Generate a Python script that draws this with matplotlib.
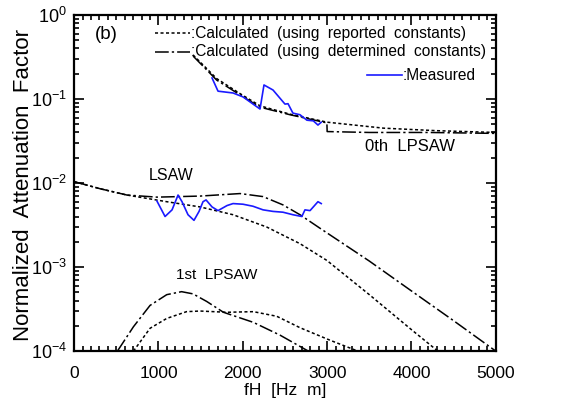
import numpy as np
import matplotlib
matplotlib.use("Agg")
import matplotlib.pyplot as plt
from matplotlib.ticker import MultipleLocator, LogLocator, NullFormatter
from matplotlib.lines import Line2D

plt.rcParams['font.family'] = ['Liberation Sans', 'DejaVu Sans']
plt.rcParams['mathtext.fontset'] = 'custom'
plt.rcParams['mathtext.rm'] = 'Liberation Sans'

# 0th LPSAW
f0_rep = [1410, 1690, 1967, 2204, 2560, 3000, 3670, 4300, 5000]
a0_rep = [0.335, 0.175, 0.116, 0.083, 0.066, 0.053, 0.045, 0.042, 0.040]
f0_det = [1410, 1690, 1967, 2204, 2560, 2997, 3000, 3500, 4200, 5000]
a0_det = [0.325, 0.168, 0.112, 0.080, 0.065, 0.052, 0.041, 0.040, 0.040, 0.039]
f0_meas = [1635, 1706, 1884, 2002, 2204, 2251, 2358, 2500, 2536, 2594, 2678,
           2760, 2836, 2891, 2930]
a0_meas = [0.178, 0.124, 0.118, 0.106, 0.076, 0.147, 0.128, 0.087, 0.088, 0.068,
           0.065, 0.056, 0.055, 0.049, 0.053]

# LSAW
fl_rep = [0, 300, 626, 1098, 1493, 1884, 2283, 2678, 2997, 3500, 4000, 4313]
al_rep = [0.0104, 0.0086, 0.0072, 0.0060, 0.0052, 0.0042, 0.0030, 0.0019,
          0.0012, 0.00047, 0.00018, 0.0001]
fl_det = [0, 300, 626, 982, 1493, 1967, 2240, 2476, 2678, 2915, 3500, 4000,
          4500, 5000]
al_det = [0.0104, 0.0086, 0.0072, 0.0068, 0.0070, 0.0075, 0.0069, 0.0055,
          0.0042, 0.0029, 0.00118, 0.00052, 0.00023, 0.0001]
fl_meas = [982, 1078, 1161, 1232, 1279, 1350, 1421, 1481, 1528, 1564, 1635, 1706,
           1813, 1884, 2002, 2120, 2240, 2358, 2476, 2594, 2700, 2737, 2797,
           2891, 2930]
al_meas = [0.0061, 0.0040, 0.0048, 0.0072, 0.0060, 0.0042, 0.0036, 0.0046,
           0.0060, 0.0063, 0.0052, 0.0047, 0.0054, 0.0057, 0.0056, 0.0053,
           0.0048, 0.0046, 0.0045, 0.0042, 0.0040, 0.0048, 0.0047, 0.0060,
           0.0057]

# 1st LPSAW
f1_rep = [703, 900, 1098, 1333, 1493, 1813, 2125, 2402, 2678, 3033, 3365]
a1_rep = [0.0001, 0.000187, 0.000245, 0.000295, 0.0003, 0.00029, 0.000295,
          0.00026, 0.00019, 0.000135, 0.0001]
f1_det = [513, 703, 900, 1098, 1274, 1410, 1572, 1770, 2125, 2441, 2777]
a1_det = [0.0001, 0.000195, 0.00035, 0.00047, 0.00051, 0.00048, 0.00039,
          0.00029, 0.00022, 0.000155, 0.0001]

fig = plt.figure(figsize=(5.66, 4.05), dpi=100)
ax = fig.add_axes([0.131, 0.133, 0.745, 0.83])

dotted = dict(color='black', lw=1.1, ls=(0, (2, 1.6)))
dashdot = dict(color='black', lw=1.1, ls=(0, (9, 2, 1.5, 2)))
meas = dict(color='#1a1aff', lw=1.2)

ax.plot(f0_rep, a0_rep, **dotted)
ax.plot(f0_det, a0_det, **dashdot)
ax.plot(f0_meas, a0_meas, **meas)
ax.plot(fl_rep, al_rep, **dotted)
ax.plot(fl_det, al_det, **dashdot)
ax.plot(fl_meas, al_meas, **meas)
ax.plot(f1_rep, a1_rep, **dotted)
ax.plot(f1_det, a1_det, **dashdot)

ax.set_yscale('log')
ax.set_xlim(0, 5000)
ax.set_ylim(1e-4, 1)
ax.xaxis.set_major_locator(MultipleLocator(1000))
ax.xaxis.set_minor_locator(MultipleLocator(100))
ax.yaxis.set_major_locator(LogLocator(base=10, numticks=10))
ax.yaxis.set_minor_locator(LogLocator(base=10, subs=np.arange(2, 10), numticks=10))
ax.yaxis.set_minor_formatter(NullFormatter())
ax.tick_params(which='both', direction='in', top=True, right=True, width=1.2)
ax.tick_params(which='major', length=7)
ax.tick_params(axis='x', which='major', pad=11, labelsize=12.5)
ax.tick_params(axis='y', which='major', pad=5, labelsize=13)
ax.tick_params(which='minor', length=3.5)
for s in ax.spines.values():
    s.set_linewidth(1.6)

ax.set_xlabel('fH  [Hz  m]', fontsize=12.5, labelpad=1)
ax.set_ylabel('Normalized  Attenuation  Factor', fontsize=16)
ax.yaxis.set_label_coords(-0.096, 0.495)

ax.text(250, 0.58, '(b)', fontsize=13.5, ha='left', va='center')
# legend drawn by hand
ax.add_line(Line2D([960, 1374], [0.61, 0.61], **dotted))
ax.text(1380, 0.61, ':Calculated  (using  reported  constants)', fontsize=11.2,
        va='center')
ax.add_line(Line2D([960, 1374], [0.363, 0.363], **dashdot))
ax.text(1380, 0.363, ':Calculated  (using  determined  constants)', fontsize=11.2,
        va='center')
ax.add_line(Line2D([3471, 3886], [0.193, 0.193], **meas))
ax.text(3895, 0.193, ':Measured', fontsize=11.2, va='center')

ax.text(3980, 0.027, '0th  LPSAW', fontsize=12, ha='center', va='center')
ax.text(1150, 0.0124, 'LSAW', fontsize=11.5, ha='center', va='center')
ax.text(1690, 0.0008, '1st  LPSAW', fontsize=11, ha='center', va='center')

fig.savefig('out.png', dpi=100)
